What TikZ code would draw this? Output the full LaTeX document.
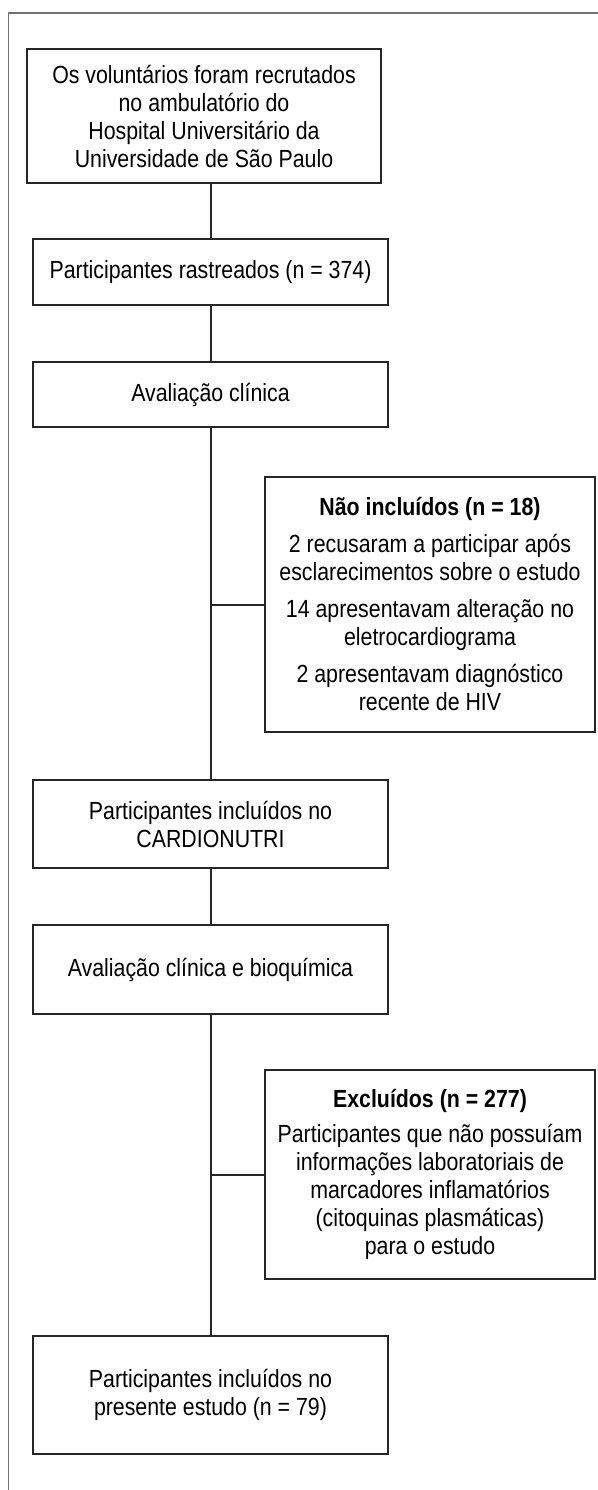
\documentclass[tikz,border=0pt]{standalone}
\usepackage{fontspec}
\setmainfont{Liberation Sans}[FakeStretch=0.86]
\begin{document}
\begin{tikzpicture}[x=0.5pt, y=-0.5pt,
    box/.style={draw=black!85, line width=1pt, align=center, inner sep=0pt,
        minimum width=177.5pt, font=\fontsize{12.4pt}{14pt}\selectfont},
    side/.style={box, minimum width=165pt}]
\useasboundingbox (0,0) rectangle (598,1490);
\draw[black!55, line width=0.8pt] (598,13)--(8.5,13)--(8.5,1490);

\node[box, minimum width=177pt, minimum height=67pt] (recrut) at (204,116)
    {Os voluntários foram recrutados\\ no ambulatório do\\ Hospital Universitário da\\ Universidade de São Paulo};
\node[box, minimum height=33pt] (rastr) at (210.5,272) {Participantes rastreados (n = 374)};
\node[box, minimum height=32.5pt] (aval) at (210.5,394.5) {Avaliação clínica};
\node[side, minimum height=127.5pt] (naoinc) at (430,604.5)
    {\textbf{Não incluídos (n = 18)}\\[4.5pt]
     2 recusaram a participar após\\ esclarecimentos sobre o estudo\\[4.5pt]
     14 apresentavam alteração no\\ eletrocardiograma\\[4.5pt]
     2 apresentavam diagnóstico\\ recente de HIV};
\node[box, minimum height=44pt] (cardio) at (210.5,824) {Participantes incluídos no\\ CARDIONUTRI};
\node[box, minimum height=44.5pt] (bioq) at (210.5,969.5) {Avaliação clínica e bioquímica};
\node[side, minimum height=104.5pt] (exclu) at (430,1174.5)
    {\textbf{Excluídos (n = 277)}\\[3.5pt]
     Participantes que não possuíam\\ informações laboratoriais de\\ marcadores inflamatórios\\
     (citoquinas plasmáticas)\\ para o estudo};
\node[box, minimum height=59pt] (final) at (210.5,1395) {Participantes incluídos no\\ presente estudo (n = 79)};

\draw[black!85, line width=1pt] (rastr.north |- recrut.south)--(rastr.north);
\draw[black!85, line width=1pt] (rastr)--(aval);
\draw[black!85, line width=1pt] (aval)--(cardio);
\draw[black!85, line width=1pt] (aval.south |- naoinc.west)--(naoinc.west);
\draw[black!85, line width=1pt] (cardio)--(bioq);
\draw[black!85, line width=1pt] (bioq)--(final);
\draw[black!85, line width=1pt] (bioq.south |- exclu.west)--(exclu.west);

\end{tikzpicture}
\end{document}
